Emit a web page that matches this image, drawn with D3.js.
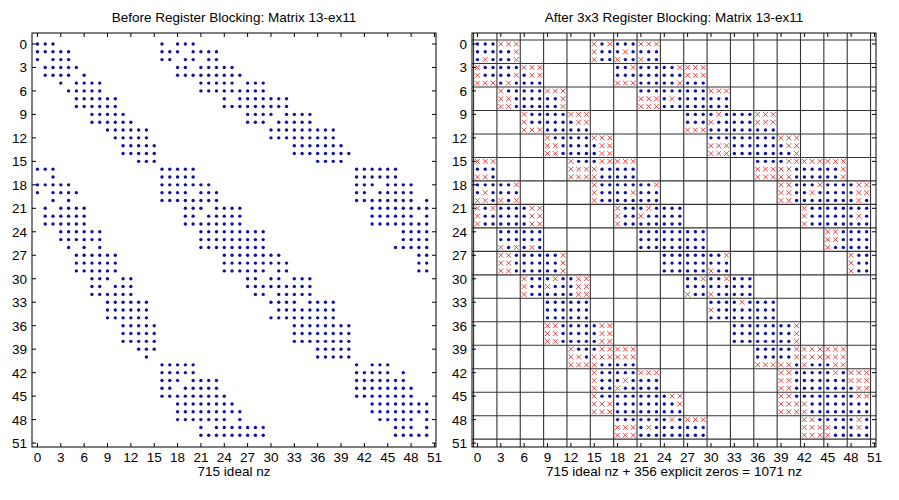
<!DOCTYPE html>
<html>
<head>
<meta charset="utf-8">
<script src="https://cdn.jsdelivr.net/npm/d3@7"></script>
<style>
  body { margin: 0; background: #fff; }
  text { font-family: "Liberation Sans", Arial, sans-serif; }
</style>
</head>
<body>
<svg id="chart" width="899" height="500"></svg>
<script>
var N = 51;
var ticks = d3.range(0, 52, 3);
var titles = ['Before Register Blocking: Matrix 13-ex11', 'After 3x3 Register Blocking: Matrix 13-ex11'];
var xLabels = ['715 ideal nz', '715 ideal nz + 356 explicit zeros = 1071 nz'];

// block rows of 3x3 blocks: [block column, mask row-major (1 = nonzero, 0 = explicit zero)]
var blockRows = [
  [[0,'111111101'],[1,'000110110'],[5,'010011011'],[6,'111101011'],[7,'000111011']],
  [[0,'011011000'],[1,'111110101'],[2,'000100111'],[6,'110111000'],[7,'111111111'],[8,'110111110'],[9,'000000111']],
  [[1,'011001001'],[2,'111111111'],[3,'000110110'],[7,'111000000'],[8,'111101111'],[9,'111111111'],[10,'000111111']],
  [[2,'011011000'],[3,'111111111'],[4,'000100111'],[9,'111111000'],[10,'101011111'],[11,'111111111'],[12,'000000111']],
  [[3,'011001001'],[4,'111111111'],[5,'000100100'],[10,'111000000'],[11,'111111111'],[12,'111111111'],[13,'000100110']],
  [[0,'000111001'],[4,'011000000'],[5,'100011011'],[6,'000111111'],[12,'111000000'],[13,'100001001'],[14,'000111111'],[15,'000110110']],
  [[0,'111101001'],[1,'110111010'],[5,'011011011'],[6,'111110111'],[7,'110111111'],[13,'001001001'],[14,'110101111'],[15,'111111111'],[16,'100100101']],
  [[0,'010011011'],[1,'111111111'],[2,'100100100'],[6,'011011011'],[7,'101011111'],[8,'111111111'],[14,'011011011'],[15,'111111111'],[16,'111101111']],
  [[1,'111111010'],[2,'111111101'],[7,'111111111'],[8,'111111111'],[9,'111111111'],[15,'001001011'],[16,'111111111']],
  [[1,'001001001'],[2,'111111111'],[3,'110110110'],[8,'111111111'],[9,'111111111'],[10,'110111011'],[16,'011011011']],
  [[2,'011011011'],[3,'101011111'],[4,'100100100'],[9,'110111011'],[10,'110111011'],[11,'111111111']],
  [[3,'111111111'],[4,'111111111'],[10,'111011111'],[11,'101111111'],[12,'111111111']],
  [[3,'001001001'],[4,'111111111'],[5,'100100100'],[11,'111111111'],[12,'111111111'],[13,'110110110']],
  [[4,'011001000'],[5,'100000011'],[6,'000000111'],[12,'111111000'],[13,'110110001'],[14,'000000011'],[15,'000000100']],
  [[5,'011011011'],[6,'111101011'],[7,'000111111'],[13,'001001001'],[14,'111111111'],[15,'101111111'],[16,'000000100']],
  [[5,'011000000'],[6,'111111111'],[7,'111111111'],[8,'100110111'],[13,'001000000'],[14,'111011011'],[15,'111111111'],[16,'100111111']],
  [[6,'111000000'],[7,'111101111'],[8,'101111111'],[9,'000111111'],[14,'001000000'],[15,'111011011'],[16,'101101111']]
];

var entries = [];
blockRows.forEach(function(row, br) {
  row.forEach(function(b) {
    for (var k = 0; k < 9; k++) {
      entries.push({r: br*3 + Math.floor(k/3), c: b[0]*3 + k%3, nz: b[1][k] === '1'});
    }
  });
});

var svg = d3.select('#chart');
var panels = [{x0: 32, x1: 436}, {x0: 472, x1: 876}];
var y0 = 33, y1 = 447;

panels.forEach(function(p, i) {
  var x = d3.scaleLinear().domain([-0.7, 51.2]).range([p.x0, p.x1]);
  var y = d3.scaleLinear().domain([-1.4, 51.5]).range([y0, y1]);
  var g = svg.append('g');

  if (i === 1) {
    var grid = d3.range(-0.5, N + 1, 3);
    g.selectAll('line.gv').data(grid).enter().append('line')
      .attr('x1', function(d) { return x(d); }).attr('x2', function(d) { return x(d); })
      .attr('y1', y0).attr('y2', y1)
      .attr('stroke', '#333').attr('stroke-width', 1.1);
    g.selectAll('line.gh').data(grid).enter().append('line')
      .attr('y1', function(d) { return y(d); }).attr('y2', function(d) { return y(d); })
      .attr('x1', p.x0).attr('x2', p.x1)
      .attr('stroke', '#333').attr('stroke-width', 1.1);
  }

  g.selectAll('circle').data(entries.filter(function(d) { return d.nz; })).enter().append('circle')
    .attr('cx', function(d) { return x(d.c); })
    .attr('cy', function(d) { return y(d.r); })
    .attr('r', 1.7).attr('fill', '#1010a0');

  if (i === 1) {
    var s = 2.4;
    g.selectAll('path.zero').data(entries.filter(function(d) { return !d.nz; })).enter().append('path')
      .attr('d', function(d) {
        var cx = x(d.c), cy = y(d.r);
        return 'M' + (cx-s) + ',' + (cy-s) + 'L' + (cx+s) + ',' + (cy+s) +
               'M' + (cx-s) + ',' + (cy+s) + 'L' + (cx+s) + ',' + (cy-s);
      })
      .attr('stroke', '#e03030').attr('stroke-width', 0.9).attr('fill', 'none');
  }

  g.append('rect').attr('x', p.x0).attr('y', y0)
    .attr('width', p.x1 - p.x0).attr('height', y1 - y0)
    .attr('fill', 'none').attr('stroke', '#000').attr('stroke-width', 1);

  // inward ticks on all four sides
  var tl = 4;
  ticks.forEach(function(t) {
    [[x(t), y1, x(t), y1 - tl], [x(t), y0, x(t), y0 + tl],
     [p.x0, y(t), p.x0 + tl, y(t)], [p.x1, y(t), p.x1 - tl, y(t)]].forEach(function(l) {
      g.append('line').attr('x1', l[0]).attr('y1', l[1]).attr('x2', l[2]).attr('y2', l[3])
        .attr('stroke', '#000').attr('stroke-width', 1);
    });
  });

  g.selectAll('text.xt').data(ticks).enter().append('text')
    .attr('x', function(d) { return x(d); }).attr('y', y1 + 15)
    .attr('text-anchor', 'middle').attr('font-size', 13.5).text(function(d) { return d; });
  g.selectAll('text.yt').data(ticks).enter().append('text')
    .attr('x', p.x0 - 5).attr('y', function(d) { return y(d) + 5; })
    .attr('text-anchor', 'end').attr('font-size', 13.5).text(function(d) { return d; });

  g.append('text').attr('x', (p.x0 + p.x1) / 2).attr('y', 22)
    .attr('text-anchor', 'middle').attr('font-size', 13.5).text(titles[i]);
  g.append('text').attr('x', (p.x0 + p.x1) / 2).attr('y', 476)
    .attr('text-anchor', 'middle').attr('font-size', 13.5).text(xLabels[i]);
});
</script>
</body>
</html>
